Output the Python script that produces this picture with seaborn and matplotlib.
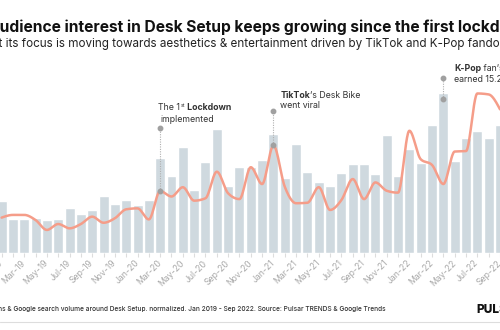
import numpy as np
import pandas as pd
import matplotlib
matplotlib.use("Agg")
import matplotlib.pyplot as plt
from matplotlib.lines import Line2D
import seaborn as sns

# Monthly data, Jan 2019 - Sep 2022 (normalised, max = 100)
months = pd.date_range("2019-01-01", "2022-09-01", freq="MS").strftime("%b-%y").tolist()

conversation_volume = [
    32.7, 21.6, 21.6, 22.3, 21.0, 21.4, 28.1, 24.6, 27.1, 35.8, 30.6, 33.3,
    30.2, 33.3, 59.4, 48.3, 66.4, 39.4, 57.3, 77.9, 42.1, 54.1, 53.8, 58.3,
    74.8, 47.1, 68.3, 50.6, 44.8, 42.3, 50.2, 55.8, 55.6, 49.6, 73.9, 48.3,
    65.4, 56.3, 80.0, 100.0, 57.7, 72.1, 76.4, 72.1, 80.0,
]
search_interest = [
    22.3, 24.0, 24.0, 20.8, 14.6, 18.3, 15.6, 18.3, 22.9, 19.1, 21.9, 27.5,
    28.1, 21.2, 38.9, 35.5, 41.3, 32.9, 34.4, 51.0, 37.5, 33.9, 53.8, 43.3,
    67.4, 41.6, 31.3, 31.6, 41.3, 27.1, 33.3, 46.4, 33.9, 44.3, 39.1, 37.9,
    76.6, 58.8, 55.2, 43.3, 63.6, 63.9, 99.9, 99.3, 90.0,
]

BAR_COLOR = "#cfd9df"
LINE_COLOR = "#f59d89"
NOTE_SIZE = 6.3

sns.set_theme(style="white")
plt.rcParams["font.family"] = ["Inter", "DejaVu Sans"]


def monotone_curve(values, steps=24):
    """Monotone cubic (d3 curveMonotoneX style) through evenly spaced points."""
    y = np.asarray(values, float)
    n = len(y)
    s = np.diff(y)
    m = np.zeros(n)
    for i in range(1, n - 1):
        s0, s1 = s[i - 1], s[i]
        p = 0.5 * (s0 + s1)
        m[i] = (np.sign(s0) + np.sign(s1)) * min(abs(s0), abs(s1), 0.5 * abs(p))
    m[0] = (3 * s[0] - m[1]) / 2
    m[-1] = (3 * s[-1] - m[-2]) / 2
    t = np.linspace(0, 1, steps, endpoint=False)
    h00 = 2 * t**3 - 3 * t**2 + 1
    h10 = t**3 - 2 * t**2 + t
    h01 = -2 * t**3 + 3 * t**2
    h11 = t**3 - t**2
    xs, ys = [], []
    for i in range(n - 1):
        xs.append(i + t)
        ys.append(h00 * y[i] + h10 * m[i] + h01 * y[i + 1] + h11 * m[i + 1])
    xs.append([n - 1])
    ys.append([y[-1]])
    return np.concatenate(xs), np.concatenate(ys)


df = pd.DataFrame({"month": months, "volume": conversation_volume})

fig = plt.figure(figsize=(5.0, 3.3), dpi=100)
ax = fig.add_axes([0.0, 0.2324, 1.0, 0.5818])

sns.barplot(data=df, x="month", y="volume", order=months, color=BAR_COLOR,
            saturation=1, width=0.88, ax=ax, zorder=1)

cx, cy = monotone_curve(search_interest)
sns.lineplot(x=cx, y=cy, sort=False, estimator=None, color=LINE_COLOR,
             linewidth=1.8, ax=ax, zorder=3)

ax.set_xlim(-0.14, 43.68)
ax.set_ylim(0, 120)
ax.set_xlabel("")
ax.set_ylabel("")
ax.set_yticks([])
for sp in ax.spines.values():
    sp.set_visible(False)

ax.set_xticks(range(len(months)))
ax.set_xticklabels([m if i % 2 == 0 else "" for i, m in enumerate(months)])
ax.tick_params(axis="x", length=3, width=0.8, color="#dddddd", labelsize=6.3,
               labelcolor="#a9a9a9", pad=3, bottom=True)
plt.setp(ax.get_xticklabels(), rotation=45, ha="right", va="center",
         rotation_mode="anchor")


def rich_text(x, y, pieces, size=NOTE_SIZE, color="#333333"):
    """Chain text pieces left to right on a shared baseline."""
    base = ax.text(x, y, pieces[0][0], ha="left", va="center", fontsize=size,
                   color=color, fontweight=pieces[0][1], zorder=5)
    prev = base
    for txt, weight in pieces[1:]:
        if weight == "sup":
            prev = ax.annotate(txt, xy=(1, 0.42), xycoords=prev, ha="left",
                               va="bottom", fontsize=size * 0.6, color=color,
                               zorder=5)
        else:
            prev = ax.annotate(txt, xy=(1, 0), xycoords=(prev, base), ha="left",
                               va="bottom", fontsize=size, color=color,
                               fontweight=weight, zorder=5)
    return base


def marker(x, y0, y1):
    ax.plot([x, x], [y0, y1], color="#b0b0b0", lw=0.8, ls=(0, (1, 1.2)), zorder=4)
    ax.plot([x, x], [y0, y1], "o", color="#a0a0a0", ms=3.2, zorder=4)


# Lockdown, Mar-20
marker(14, search_interest[14], 78.1)
rich_text(13.85, 91.0, [("The 1", "normal"), ("st", "sup"), (" Lockdown", "bold")])
ax.text(14.05, 83.7, "implemented", ha="left", va="center", fontsize=NOTE_SIZE,
        color="#333333", zorder=5)

# TikTok, Jan-21
marker(24, search_interest[24], 88.9)
rich_text(24.6, 98.9, [("TikTok", "bold"), ("\u2019s Desk Bike", "normal")])
ax.text(24.6, 92.1, "went viral", ha="left", va="center", fontsize=NOTE_SIZE,
        color="#333333", zorder=5)

# K-Pop, Apr-22
marker(39, 96.4, 109.7)
rich_text(39.95, 115.6, [("K-Pop", "bold"), (" fan\u2019s trend", "normal")])
ax.text(39.95, 108.9, "earned 15.2M views", ha="left", va="center",
        fontsize=NOTE_SIZE, color="#333333", zorder=5)

# Header
fig.text(-11.8 / 500, 1 - 27 / 330,
         "Audience interest in Desk Setup keeps growing since the first lockdown",
         ha="left", va="center", fontsize=11.2, fontweight="bold", color="#111111")
fig.text(-15.5 / 500, 1 - 43.5 / 330,
         "But its focus is moving towards aesthetics & entertainment driven by TikTok and K-Pop fandom",
         ha="left", va="center", fontsize=8.4, color="#222222")

# Footer
fig.text(386 / 500, 1 - 309.3 / 330,
         "Conversations & Google search volume around Desk Setup. normalized. "
         "Jan 2019 - Sep 2022. Source: Pulsar TRENDS & Google Trends",
         ha="right", va="center", fontsize=4.75, fontweight="medium", color="#333333")
fig.text(476.7 / 500, 1 - 310 / 330, "PULSAR", ha="left", va="center",
         fontsize=8.6, fontweight="heavy", color="#111111")
fig.add_artist(Line2D([0, 1], [1 - 322 / 330] * 2, transform=fig.transFigure,
                      color="#dddddd", lw=0.8))

fig.savefig("out.png", dpi=100)
